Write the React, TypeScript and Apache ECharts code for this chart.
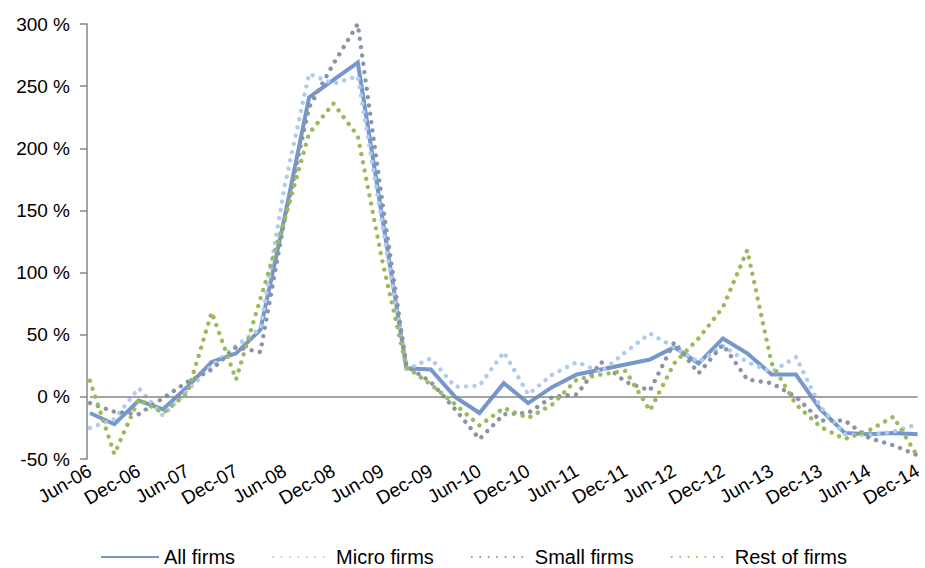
import React, { useEffect, useRef } from "react";
import * as echarts from "echarts";

const quarters = [
  "Jun-06", "Sep-06", "Dec-06", "Mar-07", "Jun-07", "Sep-07", "Dec-07", "Mar-08",
  "Jun-08", "Sep-08", "Dec-08", "Mar-09", "Jun-09", "Sep-09", "Dec-09", "Mar-10",
  "Jun-10", "Sep-10", "Dec-10", "Mar-11", "Jun-11", "Sep-11", "Dec-11", "Mar-12",
  "Jun-12", "Sep-12", "Dec-12", "Mar-13", "Jun-13", "Sep-13", "Dec-13", "Mar-14",
  "Jun-14", "Sep-14", "Dec-14",
];

const allFirms = [-13, -22, -3, -10, 8, 28, 35, 54, 145, 241, 255, 269, 145, 23, 22, 0, -13, 11, -5, 8, 18, 22, 26, 30, 40, 27, 47, 35, 18, 18, -10, -29, -30, -29, -30];
const microFirms = [-25, -18, 7, -15, 5, 25, 41, 55, 170, 260, 252, 258, 140, 22, 31, 8, 9, 36, 2, 18, 28, 20, 36, 51, 40, 28, 41, 28, 20, 32, -8, -30, -31, -28, -22];
const smallFirms = [-5, -12, -14, -1, 12, 22, 40, 36, 143, 233, 268, 300, 158, 25, 12, -10, -34, -14, -13, 0, 2, 28, 12, 5, 44, 19, 42, 14, 11, 0, -19, -19, -33, -39, -47];
const restFirms = [13, -46, -2, -13, 3, 68, 14, 79, 143, 212, 236, 210, 110, 24, 10, -6, -23, -9, -17, -6, 14, 18, 21, -11, 27, 47, 72, 118, 27, -6, -24, -34, -27, -16, -48];

const seriesNames = ["All firms", "Micro firms", "Small firms", "Rest of firms"];
const yTicks = { min: -50, max: 300, interval: 50 };

const FONT = "'Liberation Sans', Arial, sans-serif";

export default function App() {
  const ref = useRef<HTMLDivElement>(null);
  useEffect(() => {
    document.body.style.margin = "0";
    const chart = echarts.init(ref.current!, null, { renderer: "svg" });
    const dotted = (color: string) => ({
      color,
      width: 4.4,
      type: [0.01, 8.4] as any,
      cap: "round" as const,
    });
    chart.setOption({
      animation: false,
      backgroundColor: "#ffffff",
      textStyle: { fontFamily: FONT },
      grid: { left: 90, right: 4, top: 24, bottom: 109, containLabel: false },
      legend: {
        top: 547,
        left: 100,
        padding: 0,
        itemWidth: 58,
        itemHeight: 16,
        itemGap: 37,
        itemStyle: { opacity: 0 },
        textStyle: { fontSize: 20, color: "#000", fontFamily: FONT },
        data: seriesNames,
      },
      xAxis: {
        type: "category",
        data: quarters,
        boundaryGap: false,
        axisLine: { show: false, onZero: false },
        axisTick: { show: false },
        splitLine: { show: false },
        axisLabel: {
          interval: 1,
          rotate: 30,
          fontSize: 19,
          color: "#000",
          margin: 10,
          fontFamily: FONT,
        },
      },
      yAxis: {
        type: "value",
        min: yTicks.min,
        max: yTicks.max,
        interval: yTicks.interval,
        offset: 3,
        axisLine: { show: true, lineStyle: { color: "#868686", width: 1.5 } },
        axisTick: { show: true, length: 7, lineStyle: { color: "#868686", width: 1.5 } },
        splitLine: { show: false },
        axisLabel: {
          formatter: "{value} %",
          fontSize: 19,
          color: "#000",
          margin: 17,
          fontFamily: FONT,
        },
      },
      series: [
        {
          name: seriesNames[0],
          type: "line",
          data: allFirms,
          symbol: "none",
          lineStyle: { color: "#7597CC", width: 4, join: "miter" },
          itemStyle: { color: "#7597CC" },
          markLine: {
            silent: true,
            symbol: "none",
            label: { show: false },
            lineStyle: { color: "#868686", width: 1.5, type: "solid" },
            data: [{ yAxis: 0 }],
          },
          z: 2,
        },
        {
          name: seriesNames[1],
          type: "line",
          data: microFirms,
          symbol: "none",
          lineStyle: dotted("#AFCBF1"),
          itemStyle: { color: "#AFCBF1" },
          z: 3,
        },
        {
          name: seriesNames[2],
          type: "line",
          data: smallFirms,
          symbol: "none",
          lineStyle: dotted("#8895A4"),
          itemStyle: { color: "#8895A4" },
          z: 4,
        },
        {
          name: seriesNames[3],
          type: "line",
          data: restFirms,
          symbol: "none",
          lineStyle: dotted("#9BBB59"),
          itemStyle: { color: "#9BBB59" },
          z: 5,
        },
      ],
    });
    return () => chart.dispose();
  }, []);
  return (
    <div
      ref={ref}
      style={{ position: "fixed", left: 0, top: 0, width: 925, height: 568 }}
    />
  );
}
